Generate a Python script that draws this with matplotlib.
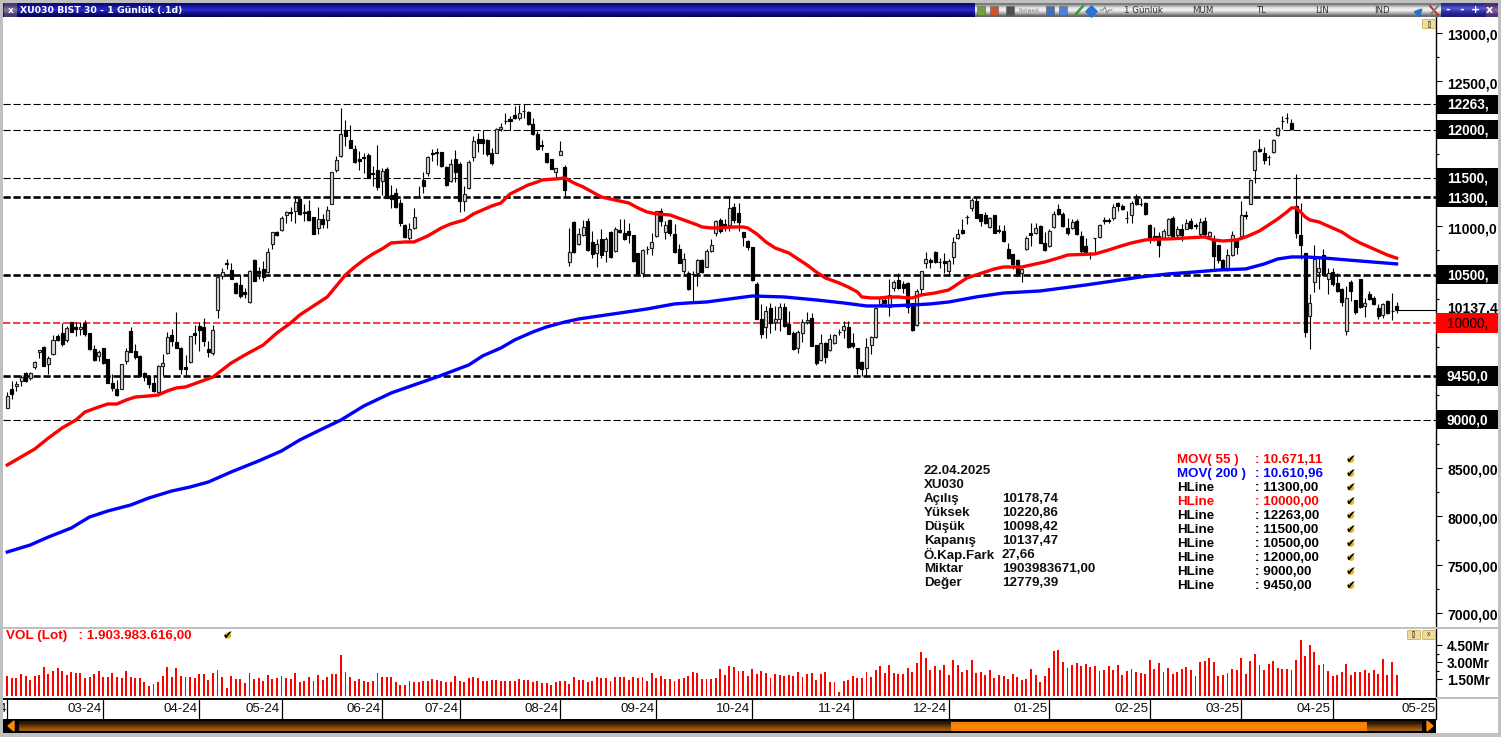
import numpy as np
import matplotlib as mpl
mpl.use('Agg')
import matplotlib.pyplot as plt
from matplotlib.patches import Rectangle, FancyBboxPatch
from matplotlib.transforms import blended_transform_factory, ScaledTranslation

plt.rcParams['font.family'] = ['Liberation Sans', 'DejaVu Sans']
plt.rcParams['lines.scale_dashes'] = False

opens = [9125,9322,9343,9402,9478,9426,9540,9696,9751,9571,
    9678,9862,9893,9827,10007,9958,9938,10000,9896,9730,
    9654,9737,9626,9384,9315,9322,9609,9920,9706,9661,
    9478,9453,9374,9291,9557,9685,9875,9806,9737,9540,
    9592,9896,9972,9955,9730,9689,10138,10491,10616,10553,
    10412,10394,10322,10214,10650,10533,10560,10526,10814,10945,
    10962,11120,11148,11159,11280,11150,11159,11093,10986,11079,
    11062,11234,11583,11728,12000,11890,11803,11693,11714,11734,
    11548,11583,11469,11590,11320,11348,11238,11014,10883,10986,
    11300,11476,11548,11755,11766,11766,11617,11469,11693,11641,
    11262,11393,11721,11900,11900,11890,11755,11762,12003,12090,
    12107,12152,12124,12190,12186,12055,11952,11841,11755,11693,
    11562,11741,11617,10631,11045,10814,10914,11059,10838,10720,
    10872,10745,10945,10745,10959,10928,10952,10910,10721,10514,
    10762,10779,10900,11159,10941,11065,10917,10762,10538,10520,
    10510,10514,10652,10583,10745,10928,11062,11021,11010,11203,
    11141,10941,10848,10790,10407,10038,9962,10159,10010,10045,
    10169,9986,9900,9745,9900,10014,10048,9769,9617,9797,
    9721,9790,9907,9928,9962,9790,9738,9600,9531,9772,
    9859,10193,10238,10169,10359,10445,10400,10410,10203,9976,
    10348,10624,10652,10738,10633,10641,10538,10686,10876,10959,
    11100,11186,11262,11131,11114,10997,11114,10958,10955,10762,
    10710,10652,10514,10762,10934,10928,11003,10824,10797,10997,
    11183,11124,10986,10986,11059,10900,10797,10720,10879,10893,
    11062,11062,11090,11245,11210,11086,11114,11279,11230,11238,
    11010,10900,10900,10883,10910,11090,10910,10976,10976,11055,
    11010,10917,11055,10900,10866,10803,10652,10572,10700,10872,
    10900,11114,11234,11583,11803,11762,11717,11772,11945,12090,
    12124,12072,11210,10907,10728,10072,10424,10531,10703,10459,
    10528,10417,10348,9917,10428,10234,10452,10176,10297,10262,
    10159,10079,10228,10124,10178.74]
highs = [9281,9402,9402,9460,9488,9495,9609,9716,9758,9654,
    9875,9886,10000,9965,10014,10014,10014,10031,9896,9775,
    9720,9737,9626,9471,9412,9578,9737,9955,9782,9668,
    9488,9460,9453,9564,9678,9903,9938,10111,9747,9668,
    9862,9979,10014,10048,9817,9979,10477,10567,10664,10623,
    10422,10498,10360,10553,10664,10578,10636,10776,10945,10950,
    11107,11155,11203,11314,11293,11228,11269,11100,11203,11124,
    11210,11565,11728,12220,12100,12045,11838,11779,11755,11755,
    11624,11841,11607,11614,11424,11400,11279,11024,11031,11193,
    11417,11566,11728,11797,11814,11769,11624,11700,11790,11669,
    11417,11686,11934,11962,11997,11907,11814,12020,12070,12169,
    12141,12245,12255,12260,12193,12124,11986,11893,11762,11693,
    11607,11883,11631,10986,11055,10986,11065,11090,10952,10866,
    10969,10893,10952,10997,11072,11072,11031,10910,10721,10762,
    10797,10928,11162,11193,11055,11072,11021,10814,10728,10538,
    10538,10659,10659,10769,10866,11065,11090,11072,11297,11245,
    11245,10941,10859,10790,10428,10193,10176,10203,10176,10210,
    10203,10124,9917,9928,10038,10114,10107,9769,9890,9807,
    9883,9890,9934,10021,10021,9900,9745,9607,9848,9866,
    10169,10279,10262,10452,10445,10520,10434,10424,10210,10348,
    10541,10738,10676,10745,10676,10728,10659,10893,10969,11072,
    11114,11296,11296,11131,11148,11100,11114,11010,11010,10824,
    10710,10659,10572,10900,11038,11031,11010,10941,10969,11159,
    11228,11148,11090,11072,11079,10952,10883,10734,10883,11021,
    11097,11090,11228,11255,11228,11159,11262,11331,11296,11252,
    11021,10997,10941,10976,11090,11107,11003,11021,11072,11090,
    11038,11090,11100,10950,10910,10803,10659,10769,10952,10872,
    11262,11159,11493,11786,11907,11824,11734,11900,12031,12141,
    12176,12114,11538,11238,10728,10297,10803,10693,10762,10572,
    10572,10520,10365,10383,10441,10234,10452,10262,10331,10279,
    10193,10210,10238,10307,10220.86]
lows = [9125,9211,9298,9343,9391,9412,9523,9633,9550,9467,
    9668,9817,9765,9806,9903,9862,9875,9862,9723,9609,
    9609,9575,9377,9298,9246,9315,9575,9703,9626,9447,
    9402,9332,9291,9281,9453,9678,9765,9744,9471,9460,
    9585,9782,9713,9758,9644,9668,10048,10457,10560,10450,
    10301,10256,10256,10204,10432,10457,10439,10519,10769,10900,
    10952,11038,11055,11038,11114,11055,11059,10920,10917,10986,
    10979,11228,11562,11721,11831,11807,11659,11583,11555,11497,
    11420,11376,11324,11290,11193,11193,11003,10879,10859,10969,
    11290,11341,11521,11676,11634,11617,11417,11459,11462,11152,
    11159,11383,11676,11769,11745,11728,11631,11755,11986,12055,
    11996,12107,12096,12124,12045,11945,11790,11790,11659,11590,
    11514,11734,11314,10590,10728,10803,10900,10748,10676,10583,
    10676,10631,10676,10738,10928,10859,10831,10631,10493,10479,
    10710,10703,10893,11003,10866,10900,10728,10617,10503,10345,
    10220,10383,10514,10576,10738,10900,10928,10952,10952,11038,
    10952,10797,10755,10434,10038,9848,9848,9900,9928,9917,
    9962,9883,9721,9693,9803,9986,9762,9566,9607,9583,
    9710,9779,9872,9848,9745,9745,9469,9452,9445,9676,
    9848,10176,10176,10072,10331,10348,10314,10107,9921,9969,
    10297,10572,10572,10624,10572,10520,10493,10607,10866,10917,
    11021,11159,11083,11003,11021,10986,10928,10934,10841,10659,
    10555,10486,10424,10755,10797,10917,10824,10745,10790,10986,
    11114,10997,10907,10969,10910,10728,10710,10659,10728,10883,
    11021,11038,11065,11159,11169,11031,11031,11221,11210,11117,
    10824,10848,10683,10866,10900,10883,10866,10848,10969,10969,
    10969,10900,10900,10893,10555,10624,10555,10538,10693,10710,
    10893,11079,11228,11452,11769,11645,11638,11762,11934,12003,
    12072,11996,10883,10659,9859,9734,10320,10348,10486,10297,
    10383,10320,10176,9872,10228,10090,10159,10066,10238,10183,
    10045,10055,10090,10031,10098.42]
closes = [9246,9263,9367,9436,9402,9481,9599,9716,9550,9633,
    9827,9827,9786,9948,9910,9938,9962,9886,9730,9613,
    9703,9585,9384,9329,9253,9578,9713,9703,9647,9447,
    9436,9367,9298,9557,9581,9851,9817,9744,9523,9523,
    9862,9875,9931,9813,9703,9931,10477,10526,10605,10457,
    10311,10284,10301,10533,10439,10519,10474,10733,10945,10905,
    11090,11148,11142,11255,11124,11142,11066,10921,11079,11028,
    11166,11562,11686,11955,11934,11814,11666,11676,11710,11503,
    11542,11407,11572,11297,11286,11203,11038,10886,10969,11100,
    11306,11417,11717,11752,11755,11624,11424,11648,11562,11262,
    11331,11669,11883,11859,11866,11752,11659,12003,12031,12086,
    12090,12124,12169,12190,12055,11952,11797,11835,11665,11597,
    11607,11776,11372,10734,10734,10917,10997,10755,10710,10821,
    10703,10872,10686,10976,10941,10866,10910,10641,10503,10755,
    10765,10841,11159,11055,11010,10928,10738,10624,10659,10348,
    10507,10652,10528,10745,10803,11052,10952,10997,11193,11065,
    11045,10890,10790,10445,10045,9890,10124,10003,10045,10169,
    9969,9883,9728,9907,10010,10030,9762,9583,9790,9652,
    9831,9876,9907,9969,9755,9760,9538,9521,9755,9859,
    10159,10262,10210,10290,10424,10359,10365,10169,9928,10334,
    10538,10659,10631,10631,10628,10624,10641,10838,10917,10934,
    11100,11272,11090,11055,11038,11090,10934,10955,10848,10669,
    10607,10493,10555,10883,10910,10979,10831,10755,10952,11131,
    11124,11003,10928,11045,10917,10745,10728,10720,10875,11010,
    11059,11059,11203,11210,11183,11083,11245,11228,11226,11124,
    10883,10872,10807,10952,11072,10900,10976,10907,11038,10986,
    11007,11045,10917,10941,10693,10652,10555,10700,10907,10790,
    11117,11110,11476,11783,11776,11686,11714,11893,12021,12086,
    12120,12003,10934,10803,9907,10210,10659,10565,10493,10520,
    10400,10331,10217,10262,10331,10114,10169,10210,10252,10193,
    10072,10193,10100,10120,10137.47]

# volume in Mr
volume = [1.8,1.6,1.6,2.0,1.8,1.45,1.8,1.9,2.6,2.0,2.25,2.5,2.25,1.9,2.15,2.1,2.05,1.6,1.75,1.95,
    2.25,1.7,1.7,2.05,1.75,1.6,2.25,1.75,1.6,1.6,1.25,0.95,1.1,1.25,1.8,2.6,1.7,2.5,1.8,1.7,
    1.7,1.6,1.95,1.95,1.45,2.1,2.3,1.7,0.75,1.8,1.55,1.55,1.15,2.05,1.55,1.6,1.4,1.85,1.55,1.6,
    1.8,1.65,1.55,2.05,1.3,1.35,1.7,1.4,1.9,1.45,1.75,1.95,1.95,3.7,2.15,1.75,1.35,1.5,1.4,1.25,
    1.35,2.1,1.75,1.7,1.7,1.3,1.0,1.0,1.35,1.3,1.3,1.35,1.35,1.5,1.45,1.4,1.3,1.3,1.8,1.35,
    1.25,1.6,1.7,1.65,1.35,1.35,1.45,1.45,1.4,1.4,1.4,1.4,1.5,1.45,1.45,1.25,1.35,1.15,1.15,1.0,
    1.3,1.35,1.35,1.1,1.7,1.45,1.45,1.3,1.4,1.75,1.6,1.6,1.35,1.75,1.7,1.75,1.45,1.75,1.65,1.75,
    1.4,2.05,1.65,1.8,1.55,1.5,1.35,1.5,1.65,1.8,2.15,2.1,1.55,1.55,1.55,1.6,2.4,1.9,2.67,2.6,
    2.25,2.2,1.8,2.4,2.0,2.25,2.1,1.6,2.0,1.85,1.8,1.9,1.8,2.15,1.75,2.0,2.05,1.45,2.0,2.15,
    1.25,1.25,0.4,1.35,1.45,1.8,1.6,1.6,2.15,1.7,2.3,2.65,2.05,2.75,2.05,2.0,2.0,2.5,2.15,2.95,
    3.9,3.4,2.3,2.65,2.3,2.75,1.9,3.2,2.75,2.15,2.3,3.2,2.05,2.15,1.9,2.3,1.6,1.9,1.8,1.5,
    2.0,1.7,1.45,1.5,2.4,1.9,1.25,1.8,2.5,4.0,4.1,3.0,2.5,2.75,2.95,2.65,2.85,2.6,2.65,2.25,
    2.3,2.65,2.3,2.75,1.9,2.25,2.4,2.15,2.05,2.0,3.2,2.4,2.95,2.15,2.5,2.0,2.15,2.4,2.6,2.3,
    1.8,3.0,3.1,3.4,3.0,1.8,1.9,2.05,2.4,2.3,3.4,2.0,3.1,3.75,2.75,2.3,2.85,3.1,2.5,2.4,
    2.4,2.3,3.2,4.95,3.55,4.5,3.9,2.75,2.85,2.25,1.8,1.9,2.15,2.85,1.9,2.15,2.15,2.3,2.05,2.3,
    2.0,3.3,1.9,3.0,1.9]

ma55_idx = [0,3,6,9,12,15,17,20,22,24,26,28,31,33,35,37,39,42,45,47,49,52,56,59,62,64,66,68,70,72,74,76,78,80,
    82,84,87,89,92,95,97,100,102,104,106,108,110,114,116,117,120,122,124,126,128,130,133,136,138,140,142,145,
    148,151,152,154,156,159,161,162,164,166,168,171,173,175,177,179,182,184,186,187,189,191,193,195,197,198,
    200,203,204,206,208,210,212,214,216,218,222,225,227,230,232,235,238,241,243,246,249,252,254,258,262,264,
    266,269,271,272,274,276,278,280,281,282,283,284,285,287,289,292,294,296,299,302,304]
ma55 = [8531,8614,8696,8810,8914,8996,9079,9131,9162,9162,9203,9234,9245,9255,9297,9328,9338,9390,9441,9514,
    9586,9669,9772,9897,10000,10083,10145,10207,10269,10383,10497,10579,10652,10714,10766,10828,10838,10838,
    10900,10983,11024,11065,11128,11169,11210,11241,11334,11428,11459,11479,11490,11500,11448,11407,11355,
    11303,11272,11241,11190,11148,11128,11117,11065,11014,10993,10983,10983,10993,10993,10983,10921,10838,
    10776,10724,10662,10600,10528,10466,10414,10372,10321,10269,10259,10259,10269,10269,10259,10259,10290,
    10310,10321,10341,10403,10466,10497,10528,10559,10579,10579,10610,10631,10672,10703,10708,10714,10755,
    10786,10828,10859,10869,10869,10879,10890,10859,10848,10859,10890,10910,10952,11014,11076,11148,11190,
    11190,11148,11097,11066,11045,11003,10941,10879,10828,10766,10703,10671]
ma200_idx = [0,5,9,14,18,22,27,31,36,40,44,49,55,60,64,68,73,78,84,89,94,101,104,108,111,115,118,122,125,128,
    134,140,146,149,153,158,163,170,177,183,188,193,198,202,206,212,218,226,231,236,242,248,254,260,265,271,
    275,278,281,284,288,296,304]
ma200 = [7631,7703,7786,7879,7993,8055,8117,8190,8262,8303,8355,8459,8573,8676,8790,8883,8996,9141,9276,9359,
    9441,9566,9659,9741,9824,9907,9959,10010,10041,10062,10103,10145,10197,10207,10217,10248,10279,10269,
    10238,10207,10176,10176,10186,10197,10217,10269,10310,10331,10362,10393,10434,10476,10507,10528,10548,
    10559,10610,10662,10683,10683,10672,10641,10611]

month_idx = [0,21,42,60,82,99,121,142,163,185,206,228,250,270,290,313]
month_labels = ['4','03-24','04-24','05-24','06-24','07-24','08-24','09-24','10-24','11-24',
    '12-24','01-25','02-25','03-25','04-25','05-25']

price_ticks = [7000,7500,8000,8500,9000,9500,10000,10500,11000,11500,12000,12500,13000]
price_tick_labels = ['7000,00','7500,00','8000,00','8500,00','','','','','11000,0','','','12500,0','13000,0']
minor_ticks = [7250,7750,8250,8750,9250,9750,10250,10750,11250,11750,12250,12750]
vol_ticks = [1.5,3.0,4.5]
vol_tick_labels = ['1.50Mr','3.00Mr','4.50Mr']

# value, colour, width px
hlines = [(12263,'black',1.1),(12000,'black',1.1),(11500,'black',1.1),(11300,'black',2.6),(10500,'black',2.6),
    (10000,'#ff0000',1.5),(9450,'black',2.6),(9000,'black',1.1)]
hline_boxes = [(12263,'12263,','black'),(12000,'12000,','black'),(11500,'11500,','black'),(11300,'11300,','black'),
    (10500,'10500,','black'),(9450,'9450,0','black'),(9000,'9000,0','black'),(10000,'10000,','#ff0000')]

info_labels = ['22.04.2025','XU030','Açılış','Yüksek','Düşük','Kapanış','Ö.Kap.Fark','Miktar','Değer']
info_values = ['','','10178,74','10220,86','10098,42','10137,47','27,66','1903983671,00','12779,39']
legend_names = ['MOV( 55 )','MOV( 200 )','HLine','HLine','HLine','HLine','HLine','HLine','HLine','HLine']
legend_values = [': 10.671,11',': 10.610,96',': 11300,00',': 10000,00',': 12263,00',': 11500,00',': 10500,00',
    ': 12000,00',': 9000,00',': 9450,00']
legend_colors = ['#ff0000','#0000ff','black','#ff0000','black','black','black','black','black','black']

W,H = 1501,737
STEP = 4.57      # px per candle
X0 = 7.3

def to_rect(x0,y0,x1,y1):
    return [x0/W,1-y1/H,(x1-x0)/W,(y1-y0)/H]

def setup_xaxis(ax):
    ax.set_xlim((3-X0)/STEP,(1436-X0)/STEP)

def plot_price(fig,ax):
    x = np.arange(len(opens))
    o,h,l,c = map(np.array,(opens,highs,lows,closes))
    for val,col,lw in hlines:
        ax.axhline(val,color=col,lw=lw*0.72,ls=(0,(5.2,2.0)),zorder=1)
    ax.vlines(x,l,h,color='black',lw=0.8,zorder=2)
    up = c>=o
    ax.bar(x[up],(c-o)[up],bottom=o[up],width=0.66,facecolor='#dcdcdc',edgecolor='#202020',lw=0.85,zorder=3)
    ax.bar(x[~up],(o-c)[~up],bottom=c[~up],width=0.66,facecolor='black',edgecolor='black',lw=0.85,zorder=3)
    ax.plot([x[-1],(1436-X0)/STEP],[c[-1],c[-1]],color='black',lw=0.8,zorder=3)
    ax.plot(ma55_idx,ma55,color='#ff0000',lw=2.4,zorder=4,solid_joinstyle='round')
    ax.plot(ma200_idx,ma200,color='#0000ff',lw=2.4,zorder=4,solid_joinstyle='round')
    setup_xaxis(ax)
    ax.set_ylim(6855,13165)
    ax.yaxis.tick_right()
    ax.set_yticks(price_ticks)
    ax.set_yticklabels(price_tick_labels,fontsize=10.1,fontweight='bold')
    ax.set_yticks(minor_ticks,minor=True)
    ax.tick_params(axis='y',which='major',length=4,width=0.8,pad=4)
    ax.tick_params(axis='y',which='minor',length=2.5,width=0.8)
    ax.set_xticks([])
    for s in ('top','left','bottom'):
        ax.spines[s].set_visible(False)
    ax.spines['right'].set_linewidth(1.0)
    # labels sit a little lower than matplotlib centres them
    shift = ScaledTranslation(0,-1.5/100,fig.dpi_scale_trans)
    for lab in ax.get_yticklabels():
        lab.set_transform(lab.get_transform()+shift)
    # value boxes on the price scale
    tr = blended_transform_factory(ax.transAxes,ax.transData)
    ax.text(1.0075,c[-1]+10,'10137,4',transform=tr,fontsize=10.1,fontweight='bold',va='center',clip_on=False,zorder=5)
    for val,lab,col in hline_boxes:
        ax.add_patch(Rectangle((1.0,val-100),62/1433,200,transform=tr,facecolor=col,edgecolor='none',clip_on=False,zorder=6))
        ax.text(1.0075,val-8,lab,transform=tr,color='white' if col=='black' else 'black',fontsize=9.8,
                va='center',clip_on=False,zorder=7,fontweight='bold' if col=='black' else 'normal')

def plot_volume(ax):
    ax.bar(np.arange(len(volume)),volume,width=0.42,color='#ff0000')
    setup_xaxis(ax)
    ax.set_ylim(-0.06,5.96)
    ax.yaxis.tick_right()
    ax.set_yticks(vol_ticks)
    ax.set_yticklabels(vol_tick_labels,fontsize=9.8,fontweight='bold')
    ax.set_yticks([2.25,3.75],minor=True)
    ax.tick_params(axis='y',which='major',length=4,width=0.8,pad=4)
    ax.tick_params(axis='y',which='minor',length=2.5,width=0.8)
    ax.set_xticks([])
    for s in ('top','left','bottom'):
        ax.spines[s].set_visible(False)
    ax.spines['right'].set_linewidth(1.0)

def plot_months(ax):
    setup_xaxis(ax)
    ax.set_ylim(0,1)
    ax.set_xticks([])
    ax.set_yticks([])
    for s in ('left','bottom'):
        ax.spines[s].set_visible(False)
    ax.spines['top'].set_linewidth(1.4)
    ax.spines['right'].set_linewidth(1.0)
    ax.vlines(month_idx,0,1,color='black',lw=0.9)
    for i,lab in zip(month_idx,month_labels):
        ax.annotate(lab,(i,0.5),xytext=(-1.2,0),textcoords='offset points',ha='right',va='center',
                    fontsize=9.6,color='#101010',annotation_clip=False)

def gradient(ax,x0,x1,y0,y1,cols,horizontal=False):
    rgb = np.array([mpl.colors.to_rgb(k) for k in cols])
    img = rgb[None,:,:] if horizontal else rgb[:,None,:]
    ax.imshow(img,extent=(x0,x1,y1,y0),aspect='auto',interpolation='bilinear',zorder=2)

def check_icon(ax,x,y):
    ax.scatter([x],[y],s=22,color='#e8b820',edgecolor='none',zorder=5)
    ax.text(x,y,'\u2714',fontsize=8.5,ha='center',va='center',color='black',family='DejaVu Sans',zorder=6)

def gold_button(ax,x,y,lab,w=13,h=9):
    ax.add_patch(FancyBboxPatch((x-w/2+1,y-h/2+1),w-2,h-2,boxstyle='round,pad=1',facecolor='#f0dc9a',edgecolor='#c8b060',lw=0.6,zorder=5))
    ax.text(x,y,lab,fontsize=5,ha='center',va='center',color='#303030',zorder=6)

def draw_chrome(ax):
    ax.set_xlim(0,W)
    ax.set_ylim(H,0)
    ax.axis('off')
    ax.patch.set_alpha(0)
    grey = '#c0c0c0'
    # frame
    for x,y,w,h in [(0,0,W,3),(0,0,3,H),(1498,0,3,H),(0,733,W,4),(3,627,1433,2),(1436,627,62,2),(1436,697,62,2)]:
        ax.add_patch(Rectangle((x,y),w,h,facecolor=grey,edgecolor='none',zorder=3))
    # title bar
    gradient(ax,3,975,3,17,['#0b0b78','#1c1cae','#2a2ac8','#12128c','#06065c'])
    gradient(ax,975,1441,3,17,['#7c7c7c','#d8d8d8','#f6f6f6','#b8b8b8','#6c6c6c'])
    gradient(ax,1441,1486,3,17,['#2a2a90','#5858d0','#3030a8','#1c1c80'])
    gradient(ax,1486,1498,3,17,['#4a3070','#8a6aa8','#503478'])
    gradient(ax,4,17,3,17,['#4a3a70','#8a78a8','#4a3a70'])
    ax.text(11,10.5,'x',color='white',fontsize=6.5,fontweight='bold',family='DejaVu Sans',ha='center',va='center',zorder=5)
    ax.text(20,10.5,'XU030 BIST 30 - 1 Günlük (.1d)',color='white',fontsize=6.7,fontweight='bold',
            family='DejaVu Sans',va='center',zorder=5)
    for x,lab in [(1143,'1 Günlük'),(1203,'MUM'),(1262,'TL'),(1322,'LIN'),(1382,'IND')]:
        ax.text(x,10.5,lab,color='#303030',fontsize=6.2,family='DejaVu Sans',ha='center',va='center',zorder=5)
    ax.text(1029,10.5,'Foriwest',color='#808080',fontsize=3.6,family='DejaVu Sans',ha='center',va='center',zorder=5)
    for x,col in [(981,'#70a040'),(994,'#d05030'),(1010,'#505050'),(1050,'#4070c0'),(1063,'#5080d0')]:
        ax.add_patch(Rectangle((x-4,6),8,9,facecolor=col,edgecolor='#606060',lw=0.4,zorder=5))
    ax.plot([1076,1083],[14,6],color='#30a030',lw=1.8,zorder=5)
    ax.scatter([1091],[10.5],s=34,marker='D',color='#3070d0',zorder=5)
    ax.plot([1100,1103,1105,1107,1109,1112],[10,10,7,13,10,10],color='#808090',lw=0.7,zorder=5)
    ax.annotate('',xy=(1425,6),xytext=(1417,14),arrowprops=dict(arrowstyle='-|>',color='#3070c0',lw=1.8),zorder=5)
    ax.plot([1430,1438],[6,15],color='#c03020',lw=1.4,zorder=5)
    ax.plot([1430,1438],[15,6],color='#808080',lw=1.4,zorder=5)
    for x,lab in [(1447.5,'-'),(1461.5,'-'),(1475.5,'+'),(1489,'x')]:
        ax.text(x,10,lab,color='white',fontsize=8,fontweight='bold',family='DejaVu Sans',ha='center',va='center',zorder=5)
    gold_button(ax,1429,24,'[]')
    gold_button(ax,1414,635,'[]')
    gold_button(ax,1429,635,'x')
    # volume caption
    ax.text(6,635.5,'VOL (Lot)   : 1.903.983.616,00',color='#ff0000',fontsize=9.7,fontweight='bold',va='center',zorder=5)
    check_icon(ax,228,635.5)
    # info block
    for k,(lab,val) in enumerate(zip(info_labels,info_values)):
        y = 470.7+14*k
        ax.text(924,y,lab,fontsize=9.6,fontweight='bold',va='center',color='#101010',zorder=5)
        ax.text(1002,y,val,fontsize=9.6,fontweight='bold',va='center',color='#101010',zorder=5)
    # legend block
    for k,(lab,val,col) in enumerate(zip(legend_names,legend_values,legend_colors)):
        y = 459.7+14*k
        ax.text(1177,y,lab,fontsize=9.6,fontweight='bold',va='center',color=col,zorder=5)
        ax.text(1255,y,val,fontsize=9.6,fontweight='bold',va='center',color=col,zorder=5)
        check_icon(ax,1351,y)
    # scroll bar
    ax.add_patch(Rectangle((3,719),1433,14,facecolor='black',edgecolor='none',zorder=1))
    gradient(ax,19,1422,721,731,['#2a1400','#6a3806','#a05a10'])
    gradient(ax,951,1367,722,731,['#f08000','#ff8800','#f08000'])
    ax.fill([14,14,8],[721,731,726],color='#ff8800',zorder=4)
    ax.fill([1427,1427,1433],[721,731,726],color='#ff8800',zorder=4)
    ax.set_xlim(0,W)
    ax.set_ylim(H,0)

def main():
    assert len(opens)==len(highs)==len(lows)==len(closes)==len(volume)==305
    assert len(ma55_idx)==len(ma55) and len(ma200_idx)==len(ma200)
    fig = plt.figure(figsize=(W/100,H/100),dpi=100,facecolor='white')
    ax_price = fig.add_axes(to_rect(3,17,1436,627))
    ax_vol = fig.add_axes(to_rect(3,629,1436,697))
    ax_month = fig.add_axes(to_rect(3,699,1436,719))
    plot_price(fig,ax_price)
    plot_volume(ax_vol)
    plot_months(ax_month)
    chrome = fig.add_axes([0,0,1,1],zorder=10)
    draw_chrome(chrome)
    fig.savefig('out.png',dpi=100)
    plt.close(fig)

if __name__=="__main__":
    main()
